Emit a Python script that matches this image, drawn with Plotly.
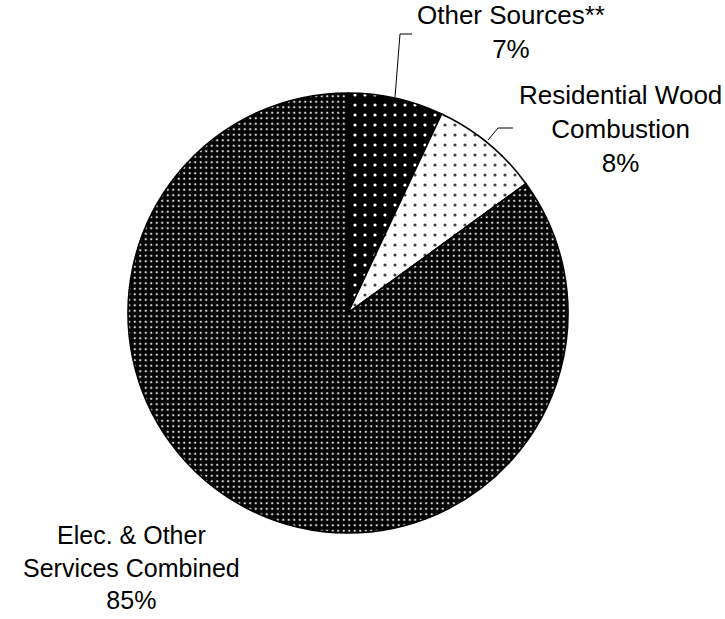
import plotly.graph_objects as go

labels = ["Other Sources**", "Residential Wood Combustion", "Elec. & Other Services Combined"]
label_lines = [["Other Sources**"], ["Residential Wood", "Combustion"], ["Elec. & Other", "Services Combined"]]
values = [7, 8, 85]

W, H = 725, 619
cx, cy, r = 348, 313, 220

def px(x):
    return x / W

def py(y):
    return 1 - y / H

fig = go.Figure()
fig.add_trace(go.Pie(
    labels=labels,
    values=values,
    sort=False,
    direction="clockwise",
    rotation=0,
    textinfo="none",
    hoverinfo="label+percent",
    showlegend=False,
    domain=dict(x=[px(cx - r), px(cx + r)], y=[py(cy + r), py(cy - r)]),
    marker=dict(
        colors=["#000000", "#ffffff", "#000000"],
        line=dict(color="#000000", width=1.6),
        pattern=dict(
            shape=[".", ".", "."],
            bgcolor=["#000000", "#ffffff", "#000000"],
            fgcolor=["#ffffff", "#444444", "#d0d0d0"],
            size=[10, 10, 5.5],
            solidity=[0.08, 0.08, 0.16],
            fillmode="replace",
        ),
    ),
))

total = sum(values)
label_pos = [(511, 32), (620, 129), (131, 567)]
label_sizes = [26, 26, 25]
annotations = []
for lines, v, (x, y), fs in zip(label_lines, values, label_pos, label_sizes):
    text = "<br>".join(lines + [f"{round(100 * v / total)}%"])
    annotations.append(dict(
        x=px(x), y=py(y), xref="paper", yref="paper",
        text=text, showarrow=False, xanchor="center", yanchor="middle",
        align="center",
        font=dict(family="Liberation Sans, Arial, sans-serif", size=fs, color="#000000"),
    ))

leaders = [
    [(412, 34), (400, 34), (395, 97)],
    [(513, 128), (498, 128), (488, 140)],
]
shapes = []
for pts in leaders:
    path = "M " + " L ".join(f"{px(x)},{py(y)}" for x, y in pts)
    shapes.append(dict(type="path", path=path, xref="paper", yref="paper",
                       line=dict(color="#000000", width=1)))

fig.update_layout(
    width=W, height=H,
    margin=dict(l=0, r=0, t=0, b=0),
    paper_bgcolor="#ffffff",
    plot_bgcolor="#ffffff",
    annotations=annotations,
    shapes=shapes,
)

fig.write_html(
    "out.html",
    config={"displayModeBar": False},
    post_script="document.body.style.margin='0px';document.body.style.overflow='hidden';",
)
